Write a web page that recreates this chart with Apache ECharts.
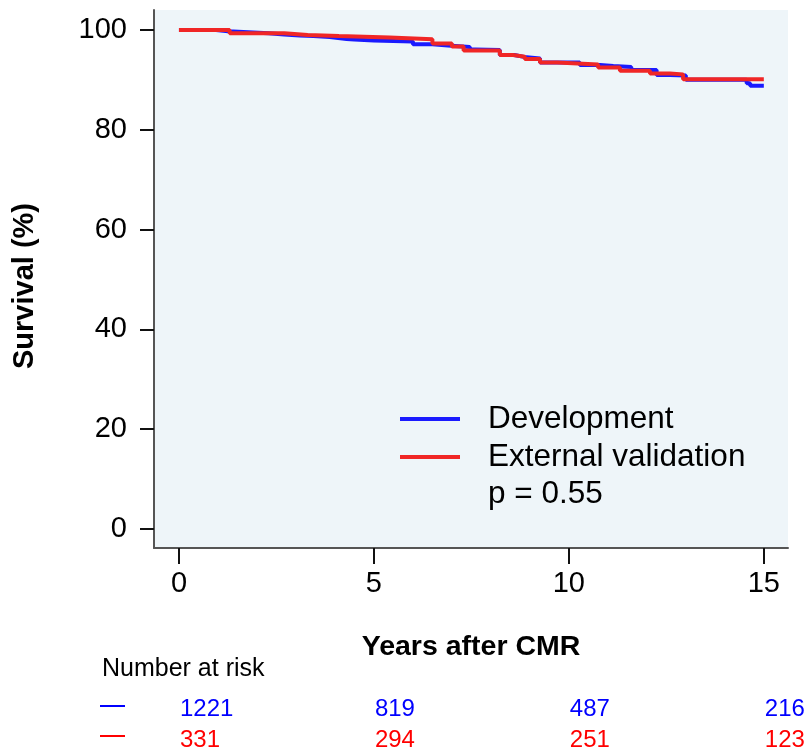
<!DOCTYPE html>
<html>
<head>
<meta charset="utf-8">
<script src="https://cdn.jsdelivr.net/npm/echarts@6/dist/echarts.min.js"></script>
<style>html,body{margin:0;padding:0;background:#fff}#c{width:812px;height:756px}</style>
</head>
<body>
<div id="c"></div>
<script>
// ---- Data ----
var seriesNames = ['Development', 'External validation'];
var devTimes = [0, 0.95, 1.26, 2.3, 2.7, 3.1, 3.45, 3.87, 4.3, 4.5, 5.0, 5.5, 6.0, 6.5, 6.9, 7.46, 7.6, 8.23, 8.6, 8.85, 9.26, 10.28, 10.8, 11.14, 11.6, 12.25, 12.6, 13.0, 14.56, 14.65, 15.0];
var devSurv  = [100, 99.75, 99.35, 99.1, 98.9, 98.8, 98.6, 98.2, 98.1, 97.9, 97.8, 97.7, 97.15, 96.9, 96.6, 96.1, 96.0, 95.0, 94.6, 94.3, 93.5, 93.0, 92.8, 92.6, 92.0, 91.0, 90.9, 90.0, 89.3, 88.8, 88.8];
var valTimes = [0, 1.3, 2.7, 3.3, 4.1, 5.4, 6.5, 7.0, 7.3, 8.23, 8.57, 8.87, 9.26, 9.7, 10.75, 11.31, 12.08, 12.59, 12.93, 15.0];
var valSurv  = [100, 99.35, 99.0, 98.8, 98.5, 98.15, 97.3, 96.7, 95.9, 95.0, 94.65, 94.2, 93.5, 93.1, 92.5, 91.85, 91.3, 91.1, 90.1, 90.1];
var xTicks = [0, 5, 10, 15];
var yTicks = [0, 20, 40, 60, 80, 100];
var riskTimes = [0, 5, 10, 15];
var riskDev = [1221, 819, 487, 216];
var riskVal = [331, 294, 251, 123];
var pText = 'p = 0.55';

// ---- Chart ----
var FONT = "'Liberation Sans', Arial, sans-serif";
var BLUE = '#1a1aff', RED = '#f02626';
function pairs(ts, vs) { return ts.map(function (t, i) { return [t, vs[i]]; }); }

var chart = echarts.init(document.getElementById('c'), null, {renderer: 'canvas'});
chart.setOption({
  animation: false,
  backgroundColor: '#ffffff',
  grid: {left: 154, top: 10, right: 24, bottom: 208, show: true, backgroundColor: '#eef5f9', borderWidth: 0},
  xAxis: {
    type: 'value', min: -0.64, max: 15.62,
    name: 'Years after CMR', nameLocation: 'middle', nameGap: 85,
    nameTextStyle: {fontFamily: FONT, fontSize: 28.5, fontWeight: 'bold', color: '#000'},
    axisLine: {show: true, onZero: false, lineStyle: {color: '#555', width: 2}},
    axisTick: {show: true, customValues: xTicks, length: 16, lineStyle: {color: '#111', width: 2}},
    axisLabel: {customValues: xTicks, fontFamily: FONT, fontSize: 29, color: '#000', margin: 21},
    splitLine: {show: false}
  },
  yAxis: {
    type: 'value', min: -3.8, max: 104,
    name: 'Survival (%)', nameLocation: 'middle', nameGap: 115, nameRotate: 90,
    nameTextStyle: {fontFamily: FONT, fontSize: 29, fontWeight: 'bold', color: '#000', padding: [0, 14, 0, 0]},
    axisLine: {show: true, onZero: false, lineStyle: {color: '#555', width: 2}},
    axisTick: {show: true, customValues: yTicks, length: 14, lineStyle: {color: '#111', width: 2}},
    axisLabel: {customValues: yTicks, fontFamily: FONT, fontSize: 29, color: '#000', margin: 27},
    splitLine: {show: false}
  },
  legend: {
    orient: 'vertical', left: 395, top: 398, itemGap: 6,
    icon: 'rect', itemWidth: 60, itemHeight: 4,
    textStyle: {fontFamily: FONT, fontSize: 31.5, color: '#000', padding: [0, 0, 0, 23]},
    data: seriesNames
  },
  series: [
    {name: seriesNames[0], type: 'line', step: 'end', showSymbol: false, data: pairs(devTimes, devSurv),
     lineStyle: {color: BLUE, width: 4}, itemStyle: {color: BLUE}, z: 2},
    {name: seriesNames[1], type: 'line', step: 'end', showSymbol: false, data: pairs(valTimes, valSurv),
     lineStyle: {color: RED, width: 4}, itemStyle: {color: RED}, z: 3}
  ]
});

var g = [];
g.push({type: 'text', left: 488, top: 478, style: {text: pText, font: "31.5px " + FONT, fill: '#000'}});
g.push({type: 'text', left: 102, top: 657, style: {text: 'Number at risk', font: "25px " + FONT, fill: '#000'}});
g.push({type: 'line', shape: {x1: 100, y1: 706, x2: 125, y2: 706}, style: {stroke: '#0000ff', lineWidth: 2}});
g.push({type: 'line', shape: {x1: 100, y1: 736, x2: 125, y2: 736}, style: {stroke: '#ff0000', lineWidth: 2}});
riskTimes.forEach(function (t, i) {
  var px = chart.convertToPixel({xAxisIndex: 0}, t);
  g.push({type: 'text', x: px + 1, y: 709, style: {text: String(riskDev[i]), font: "24px " + FONT, fill: '#0000ff', textAlign: 'left', textVerticalAlign: 'middle'}});
  g.push({type: 'text', x: px + 1, y: 740, style: {text: String(riskVal[i]), font: "24px " + FONT, fill: '#ff0000', textAlign: 'left', textVerticalAlign: 'middle'}});
});
chart.setOption({graphic: g});
</script>
</body>
</html>
